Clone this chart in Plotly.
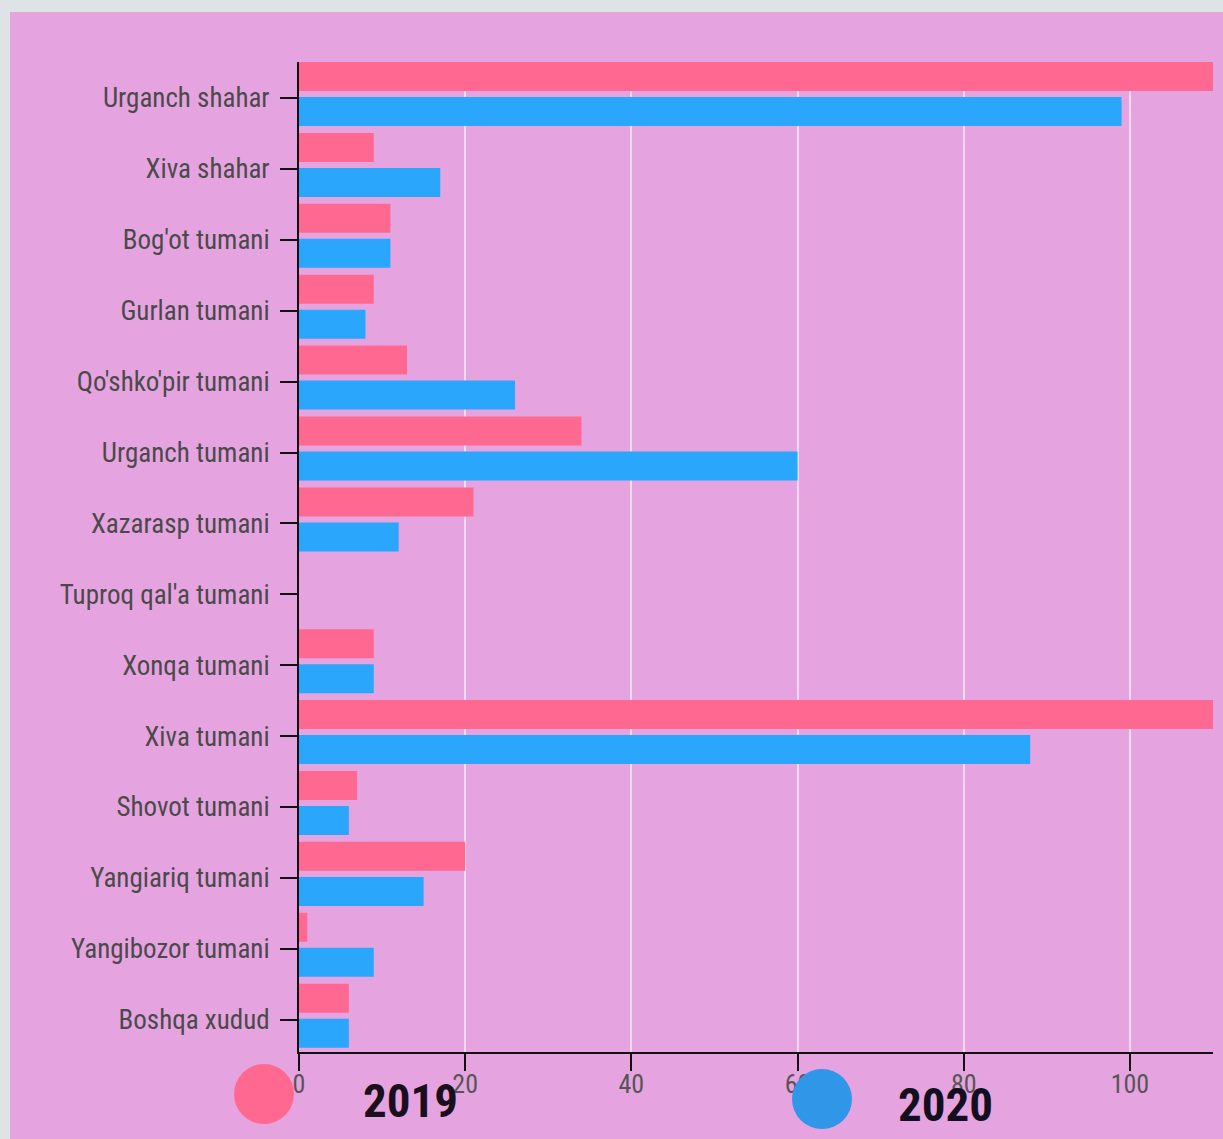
import plotly.graph_objects as go

categories = ["Urganch shahar", "Xiva shahar", "Bog'ot tumani", "Gurlan tumani",
              "Qo'shko'pir tumani", "Urganch tumani", "Xazarasp tumani",
              "Tuproq qal'a tumani", "Xonqa tumani", "Xiva tumani", "Shovot tumani",
              "Yangiariq tumani", "Yangibozor tumani", "Boshqa xudud"]
values_2019 = [118, 9, 11, 9, 13, 34, 21, 0, 9, 116, 7, 20, 1, 6]
values_2020 = [99, 17, 11, 8, 26, 60, 12, 0, 9, 88, 6, 15, 9, 6]
series_names = ["2019", "2020"]
x_ticks = [0, 20, 40, 60, 80, 100]

PINK = "#ff6891"
BLUE = "#2ba6fd"
LEGEND_BLUE = "#3096e8"
LAVENDER = "#e5a4e0"
FONT = "Roboto Condensed, Liberation Sans Narrow, DejaVu Sans Condensed, Roboto, sans-serif"

W, H = 1223, 1139
ML, MR, MT, MB = 299, 10, 62, 87
PW, PH = W - ML - MR, H - MT - MB

BAR_W = 0.409


def px_x(p):
    return (p - ML) / PW


def px_y(p):
    return (H - MB - p) / PH


fig = go.Figure()
fig.add_trace(go.Bar(y=categories, x=values_2019, name=series_names[0], orientation="h",
                     width=BAR_W, offset=-0.508,
                     marker=dict(color=PINK, line=dict(width=0))))
fig.add_trace(go.Bar(y=categories, x=values_2020, name=series_names[1], orientation="h",
                     width=BAR_W, offset=-0.014,
                     marker=dict(color=BLUE, line=dict(width=0))))

shapes = [
    dict(type="rect", xref="paper", yref="paper", x0=px_x(10), x1=px_x(W + 5),
         y0=px_y(H + 5), y1=px_y(12), fillcolor=LAVENDER, line=dict(width=0), layer="below"),
    dict(type="circle", xref="paper", yref="paper", xsizemode="pixel", ysizemode="pixel",
         xanchor=px_x(264), yanchor=px_y(1094), x0=-30, x1=30, y0=-30, y1=30,
         fillcolor=PINK, line=dict(width=0)),
    dict(type="circle", xref="paper", yref="paper", xsizemode="pixel", ysizemode="pixel",
         xanchor=px_x(822), yanchor=px_y(1099), x0=-30, x1=30, y0=-30, y1=30,
         fillcolor=LEGEND_BLUE, line=dict(width=0)),
]

annotations = [
    dict(text="<b>" + series_names[0] + "</b>", xref="paper", yref="paper",
         x=px_x(410), y=px_y(1100), showarrow=False, xanchor="center", yanchor="middle",
         font=dict(family=FONT, size=47, color="#1c0f1c")),
    dict(text="<b>" + series_names[1] + "</b>", xref="paper", yref="paper",
         x=px_x(945), y=px_y(1104), showarrow=False, xanchor="center", yanchor="middle",
         font=dict(family=FONT, size=47, color="#12101e")),
]

fig.update_layout(
    width=W, height=H,
    margin=dict(l=ML, r=MR, t=MT, b=MB, pad=0),
    paper_bgcolor="#dfe3e6",
    plot_bgcolor=LAVENDER,
    barmode="overlay",
    showlegend=False,
    shapes=shapes,
    annotations=annotations,
    font=dict(family=FONT),
    xaxis=dict(range=[0, 110], tickvals=x_ticks, showgrid=True,
               gridcolor="rgba(240,232,240,0.8)", gridwidth=1.5, zeroline=False,
               showline=True, linecolor="#111", linewidth=2,
               ticks="outside", ticklen=17, tickwidth=2, tickcolor="#111",
               ticklabelstandoff=-9,
               tickfont=dict(family=FONT, size=26, color="#555"), fixedrange=True),
    yaxis=dict(range=[13.456, -0.508], showgrid=False, zeroline=False,
               showline=True, linecolor="#111", linewidth=2,
               ticks="outside", ticklen=17, tickwidth=2, tickcolor="#111",
               ticklabelstandoff=5,
               tickfont=dict(family=FONT, size=27, color="#4a4a4a"), fixedrange=True),
)

fig.write_html("out.html", config={"displayModeBar": False},
               post_script="document.body.style.margin='0';document.body.style.overflow='hidden';document.body.style.background='#dfe3e6';")
